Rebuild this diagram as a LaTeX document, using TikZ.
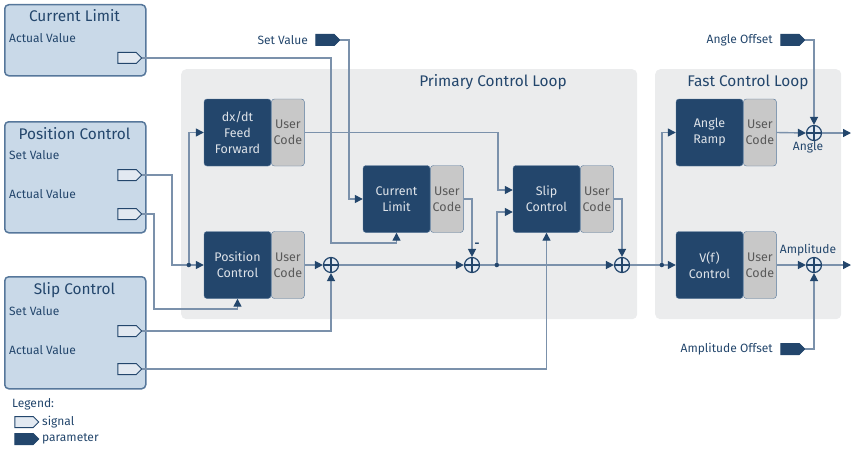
\documentclass[tikz,border=0pt]{standalone}
\usepackage{fontspec}
\setmainfont{Fira Sans}
\usetikzlibrary{arrows.meta,shapes.symbols}

\definecolor{boxblue}{HTML}{C9D9E8}
\definecolor{edgeblue}{HTML}{56779B}
\definecolor{darkblue}{HTML}{23466C}
\definecolor{panelgray}{HTML}{EBECED}
\definecolor{codegray}{HTML}{C8C8C8}
\definecolor{wirecol}{HTML}{7B91AB}
\definecolor{portfill}{HTML}{E2E9F1}

\tikzset{
  outer/.style={draw=edgeblue, line width=1.5pt, fill=boxblue, rounded corners=4pt,
    anchor=north west, inner sep=0pt, minimum width=141pt},
  panel/.style={fill=panelgray, rounded corners=5pt, anchor=north west, inner sep=0pt,
    minimum height=250pt},
  title/.style={text=darkblue, font=\fontsize{15.4}{18}\selectfont},
  label/.style={text=darkblue, font=\fontsize{12}{14}\selectfont, inner sep=0pt},
  block/.style={fill=darkblue, draw=edgeblue, rounded corners=3pt, minimum width=67pt,
    minimum height=67pt, text=white!85!darkblue, align=center,
    font=\fontsize{12.5}{16}\selectfont, inner sep=0pt},
  code/.style={fill=codegray, draw=edgeblue, rounded corners=3pt, minimum width=33pt,
    minimum height=67pt, text=black!65, align=center, anchor=west,
    font=\fontsize{12.5}{16}\selectfont, inner sep=0pt},
  signalport/.style={signal, signal to=east, draw=darkblue, fill=portfill, line width=1pt,
    minimum width=24pt, minimum height=11pt, inner sep=0pt},
  paramport/.style={signalport, fill=darkblue},
  sum/.style={circle, draw=darkblue, fill=portfill, line width=1.2pt, minimum size=15pt,
    inner sep=0pt, path picture={
      \draw[darkblue, line width=1.2pt] (path picture bounding box.north) -- (path picture bounding box.south)
        (path picture bounding box.west) -- (path picture bounding box.east);}},
  wire/.style={draw=wirecol, line width=1.4pt,
    -{Triangle[color=darkblue, length=8pt, width=8pt]}},
  dot/.style={circle, fill=darkblue, inner sep=0pt, minimum size=4.5pt}
}

\begin{document}
\begin{tikzpicture}[x=1pt, y=-1pt]

\useasboundingbox (0,0) rectangle (856,452);

% panels
\node[panel, minimum width=456pt] (primary) at (181,69) {};
\node[panel, minimum width=186pt] (fast) at (655,69) {};
\node[title] (primarytitle) at (493,82) {Primary Control Loop};
\node[title] (fasttitle) at (748,82) {Fast Control Loop};

% outer function boxes
\node[outer, minimum height=71pt] (clbox) at (4,4) {};
\node[outer, minimum height=111pt] (pcbox) at (4,121) {};
\node[outer, minimum height=112pt] (scbox) at (4,276) {};

\node[title] (cltitle) at (74.5,16) {Current Limit};
\node[title] (pctitle) at (74.5,134) {Position Control};
\node[title] (sctitle) at (74.5,290) {Slip Control};

\node[label, anchor=west] (clactlabel) at (9,38) {Actual Value};
\node[label, anchor=west] (pcsetlabel) at (9,155) {Set Value};
\node[label, anchor=west] (pcactlabel) at (9,194) {Actual Value};
\node[label, anchor=west] (scsetlabel) at (9,311) {Set Value};
\node[label, anchor=west] (scactlabel) at (9,350) {Actual Value};

% signal ports
\node[signalport] (clact) at (127,58) {};
\node[signalport] (pcset) at (127,175) {};
\node[signalport] (pcact) at (127,214) {};
\node[signalport] (scset) at (127,331) {};
\node[signalport] (scact) at (127,369) {};

% parameters
\node[paramport] (setval) at (325,40) {};
\node[paramport] (angoff) at (790,40) {};
\node[paramport] (ampoff) at (790,349) {};
\node[label, anchor=east] (setvallabel) at (308,40) {Set Value};
\node[label, anchor=east] (angofflabel) at (773,40) {Angle Offset};
\node[label, anchor=east] (ampofflabel) at (773,349) {Amplitude Offset};

% legend
\node[label, anchor=west] (legend) at (12,404) {Legend:};
\node[signalport] (legsignal) at (24,422) {};
\node[paramport] (legparam) at (24,439) {};
\node[label, anchor=west] (legsignallabel) at (42,422) {signal};
\node[label, anchor=west] (legparamlabel) at (42,439) {parameter};

% control blocks
\node[block] (ff) at (237.5,132.5) {dx/dt\\Feed\\Forward};
\node[code] (ffcode) at (ff.east) {User\\Code};
\node[block] (pc) at (237.5,265) {Position\\Control};
\node[code] (pccode) at (pc.east) {User\\Code};
\node[block] (cl) at (396.5,199) {Current\\Limit};
\node[code] (clcode) at (cl.east) {User\\Code};
\node[block] (sc) at (546.5,199) {Slip\\Control};
\node[code] (sccode) at (sc.east) {User\\Code};
\node[block] (ramp) at (709.5,132.5) {Angle\\Ramp};
\node[code] (rampcode) at (ramp.east) {User\\Code};
\node[block] (vf) at (709.5,265) {V(f)\\Control};
\node[code] (vfcode) at (vf.east) {User\\Code};

% summing points
\node[sum] (s1) at (331,265) {};
\node[sum] (s2) at (472,265) {};
\node[sum] (s3) at (622,265) {};
\node[sum] (sa) at (814,133) {};
\node[sum] (sb) at (814,265) {};
\node[label] (minus) at (477,245) {\textbf{-}};
\node[label] (anglelabel) at (808,147) {Angle};
\node[label] (amplabel) at (808,250) {Amplitude};

% bends and free ends
\coordinate (b1) at (331,243);
\coordinate (b4) at (154,309);
\coordinate (scin1) at ([yshift=9pt]sc.west);
\coordinate (scin2) at ([yshift=-13pt]sc.west);
\coordinate (angout) at (851,133);
\coordinate (ampout) at (851,265);

% connectors
\draw[wire] (clact.east) -| (b1) -| (cl.south);
\draw[wire] (setval.east) -| ([xshift=-14pt]cl.west) -- (cl.west);
\draw[wire] (pcset.east) -| ([xshift=-32pt]pc.west) -- (pc.west);
\draw[wire] (pcact.east) -| (b4) -| (pc.south);
\draw[wire] (scset.east) -| (s1.south);
\draw[wire] (scact.east) -| (sc.south);
\draw[wire] (ffcode.east) -| ([xshift=-15pt]scin1) -- (scin1);
\draw[wire] (pccode.east) -- (s1.west);
\draw[wire] (s1.east) -- (s2.west);
\draw[wire] (clcode.east) -| (s2.north);
\draw[wire] (s2.east) -- (s3.west);
\draw[wire] (sccode.east) -| (s3.north);
\draw[wire] (s3.east) -- (vf.west);
\draw[wire] (rampcode.east) -- (sa.west);
\draw[wire] (sa.east) -- (angout);
\draw[wire] (angoff.east) -| (sa.north);
\draw[wire] (vfcode.east) -- (sb.west);
\draw[wire] (sb.east) -- (ampout);
\draw[wire] (ampoff.east) -| (sb.south);

% branch points
\node[dot] (d1) at ([xshift=-15pt]pc.west) {};
\node[dot] (d2) at ([xshift=-16pt]scin2 |- s2) {};
\node[dot] (d3) at ([xshift=-14pt]vf.west) {};
\draw[wire] (d1) |- (ff.west);
\draw[wire] (d2) |- (scin2);
\draw[wire] (d3) |- (ramp.west);

\end{tikzpicture}
\end{document}
